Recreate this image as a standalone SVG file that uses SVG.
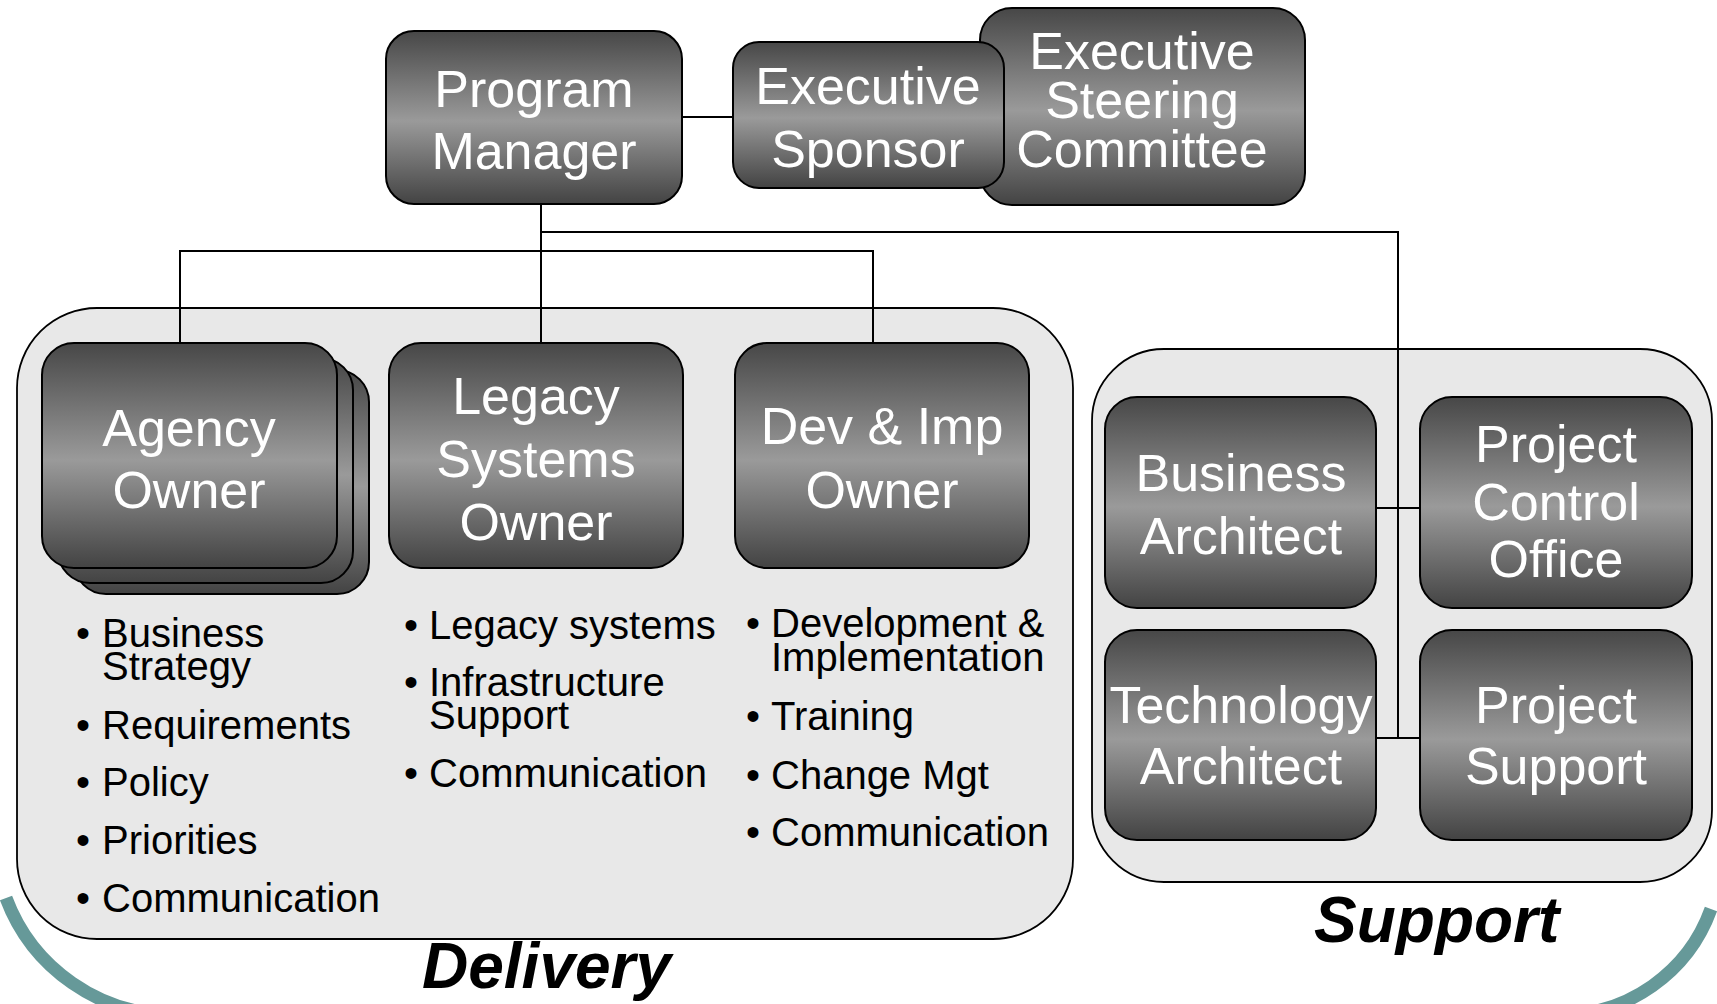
<svg xmlns="http://www.w3.org/2000/svg" width="1717" height="1004" viewBox="0 0 1717 1004">
<defs>
<linearGradient id="boxg" x1="0" y1="0" x2="0" y2="1">
<stop offset="0" stop-color="#474747"/>
<stop offset="0.52" stop-color="#9a9a9a"/>
<stop offset="1" stop-color="#434343"/>
</linearGradient>
<style>
.box{fill:url(#boxg);stroke:#000;stroke-width:2}
.cont{fill:#e8e8e8;stroke:#000;stroke-width:1.8}
.lbl{font-family:"Liberation Sans",Arial,sans-serif;font-size:52px;fill:#fff;text-anchor:middle}
.bul{font-family:"Liberation Sans",Arial,sans-serif;font-size:40px;fill:#000}
.dot{font-family:"Liberation Sans",Arial,sans-serif;font-size:40px;fill:#000;text-anchor:middle}
.grp{font-family:"Liberation Sans",Arial,sans-serif;font-size:64px;font-weight:bold;font-style:italic;fill:#000}
.conn{fill:none;stroke:#000;stroke-width:2}
.deco{fill:none;stroke:#669999;stroke-width:13}
</style>
</defs>
<rect width="1717" height="1004" fill="#fff"/>
<g id="decoration">
<path class="deco" d="M 6 898 A 180 180 0 0 0 175 1015"/>
<path class="deco" d="M 1711 909 A 160 160 0 0 1 1560 1015"/>
</g>
<g id="delivery-container">
<rect class="cont" x="17" y="308" width="1056" height="631" rx="80"/>
</g>
<g id="support-container">
<rect class="cont" x="1092" y="349" width="620" height="533" rx="72"/>
</g>
<g id="connectors">
<path class="conn" d="M 682 117 H 733"/>
<path class="conn" d="M 541 204 V 343"/>
<path class="conn" d="M 541 232 H 1398 V 738"/>
<path class="conn" d="M 180 343 V 251 H 873 V 343"/>
<path class="conn" d="M 1376 508 H 1420"/>
<path class="conn" d="M 1376 738 H 1420"/>
</g>
<g id="executive-steering-committee">
<rect class="box" x="980" y="8" width="325" height="197" rx="32"/>
<text class="lbl" x="1142" y="69">Executive</text>
<text class="lbl" x="1142" y="118">Steering</text>
<text class="lbl" x="1142" y="167">Committee</text>
</g>
<g id="program-manager">
<rect class="box" x="386" y="31" width="296" height="173" rx="28"/>
<text class="lbl" x="534" y="107">Program</text>
<text class="lbl" x="534" y="169">Manager</text>
</g>
<g id="executive-sponsor">
<rect class="box" x="733" y="42" width="271" height="146" rx="26"/>
<text class="lbl" x="868" y="104">Executive</text>
<text class="lbl" x="868" y="167">Sponsor</text>
</g>
<g id="agency-owner">
<rect class="box" x="74" y="370" width="295" height="224" rx="32"/>
<rect class="box" x="58" y="358" width="295" height="225" rx="32"/>
<rect class="box" x="42" y="343" width="295" height="225" rx="32"/>
<text class="lbl" x="189" y="446">Agency</text>
<text class="lbl" x="189" y="508">Owner</text>
</g>
<g id="legacy-systems-owner">
<rect class="box" x="389" y="343" width="294" height="225" rx="32"/>
<text class="lbl" x="536" y="414">Legacy</text>
<text class="lbl" x="536" y="477">Systems</text>
<text class="lbl" x="536" y="540">Owner</text>
</g>
<g id="dev-imp-owner">
<rect class="box" x="735" y="343" width="294" height="225" rx="32"/>
<text class="lbl" x="882" y="444">Dev &amp; Imp</text>
<text class="lbl" x="882" y="508">Owner</text>
</g>
<g id="business-architect">
<rect class="box" x="1105" y="397" width="271" height="211" rx="32"/>
<text class="lbl" x="1241" y="491">Business</text>
<text class="lbl" x="1241" y="554">Architect</text>
</g>
<g id="project-control-office">
<rect class="box" x="1420" y="397" width="272" height="211" rx="32"/>
<text class="lbl" x="1556" y="462">Project</text>
<text class="lbl" x="1556" y="520">Control</text>
<text class="lbl" x="1556" y="577">Office</text>
</g>
<g id="technology-architect">
<rect class="box" x="1105" y="630" width="271" height="210" rx="32"/>
<text class="lbl" x="1241" y="723">Technology</text>
<text class="lbl" x="1241" y="784">Architect</text>
</g>
<g id="project-support">
<rect class="box" x="1420" y="630" width="272" height="210" rx="32"/>
<text class="lbl" x="1556" y="723">Project</text>
<text class="lbl" x="1556" y="784">Support</text>
</g>
<g id="agency-bullets">
<text class="dot" x="83" y="647">•</text>
<text class="bul" x="102" y="647">Business</text>
<text class="bul" x="102" y="680">Strategy</text>
<text class="dot" x="83" y="739">•</text>
<text class="bul" x="102" y="739">Requirements</text>
<text class="dot" x="83" y="796">•</text>
<text class="bul" x="102" y="796">Policy</text>
<text class="dot" x="83" y="854">•</text>
<text class="bul" x="102" y="854">Priorities</text>
<text class="dot" x="83" y="912">•</text>
<text class="bul" x="102" y="912">Communication</text>
</g>
<g id="legacy-bullets">
<text class="dot" x="411" y="639">•</text>
<text class="bul" x="429" y="639">Legacy systems</text>
<text class="dot" x="411" y="696">•</text>
<text class="bul" x="429" y="696">Infrastructure</text>
<text class="bul" x="429" y="729">Support</text>
<text class="dot" x="411" y="787">•</text>
<text class="bul" x="429" y="787">Communication</text>
</g>
<g id="dev-bullets">
<text class="dot" x="753" y="637">•</text>
<text class="bul" x="771" y="637">Development &amp;</text>
<text class="bul" x="771" y="671">Implementation</text>
<text class="dot" x="753" y="730">•</text>
<text class="bul" x="771" y="730">Training</text>
<text class="dot" x="753" y="789">•</text>
<text class="bul" x="771" y="789">Change Mgt</text>
<text class="dot" x="753" y="846">•</text>
<text class="bul" x="771" y="846">Communication</text>
</g>
<g id="group-labels">
<text class="grp" x="422" y="988">Delivery</text>
<text class="grp" x="1314" y="942">Support</text>
</g>
</svg>
